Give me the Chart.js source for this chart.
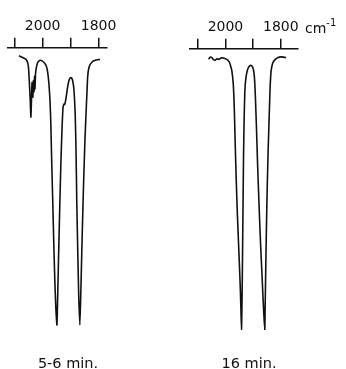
<!DOCTYPE html>
<html>
<head>
<meta charset="utf-8">
<script src="https://cdn.jsdelivr.net/npm/chart.js@4/dist/chart.umd.min.js"></script>
<style>
	body { margin: 0; background: #fff; }
	#wrap { position: relative; width: 346px; height: 369px; overflow: hidden; font-family: "DejaVu Sans", sans-serif; color: #111; }
	canvas { position: absolute; top: 0; }
	.caption { position: absolute; width: 100px; text-align: center; font-size: 14.5px; line-height: 16px; top: 355px; }
	#unit { position: absolute; left: 305px; top: 16px; font-size: 14px; line-height: 16px; }
	#unit sup { font-size: 10px; position: relative; top: -1px; }
</style>
</head>
<body>
<div id="wrap">
	<canvas id="left-chart" width="173" height="369" style="left:0"></canvas>
	<canvas id="right-chart" width="173" height="369" style="left:173px"></canvas>
	<div id="unit">cm<sup>-1</sup></div>
	<div class="caption" style="left:18px">5-6 min.</div>
	<div class="caption" style="left:199px">16 min.</div>
</div>
<script>
// wavenumber ticks (cm-1); only some of them get a label
const tickValues = [2100, 2000, 1900, 1800];
const labeledTicks = [2000, 1800];

// 5-6 min. spectrum: wavenumber and transmittance (%)
const earlyWavenumber = [2085, 2078, 2070, 2063, 2056, 2051, 2048, 2045, 2042, 2039.5, 2038, 2036.5, 2035, 2033, 2031, 2029, 2027.5, 2025.5, 2023, 2020, 2017, 2013, 2008, 2002.5, 1996, 1990, 1985, 1981, 1977.5, 1974, 1971, 1968, 1964, 1960, 1956, 1952.5, 1949, 1947, 1943.5, 1939.5, 1935, 1931, 1927.5, 1924, 1921, 1916, 1911, 1906, 1901, 1897, 1893, 1889, 1886, 1883.5, 1881, 1878, 1874.5, 1871, 1867, 1864, 1859, 1854, 1849, 1845, 1842, 1839, 1835, 1830, 1824, 1817, 1809, 1801, 1795];
const earlyTransmittance = [98.9, 98.6, 98.2, 97.9, 97.1, 95, 90, 84, 76.8, 85, 89.3, 86, 84, 90, 86, 91.5, 87, 92.5, 94.5, 95.8, 96.6, 97.1, 97.3, 97.1, 96.6, 95.8, 94.5, 92.1, 88.6, 83.2, 75, 62, 46.4, 30, 16, 7, 1.8, 9, 25, 42, 60, 72, 80, 81.5, 81.4, 84, 87.5, 90, 91, 91, 90, 87.5, 83, 77, 66, 46, 28, 12, 1.8, 12, 33, 52, 68, 78, 85, 91.5, 94.5, 95.8, 96.6, 97.1, 97.4, 97.6, 97.5];

// 16 min. spectrum
const lateWavenumber = [2061, 2055, 2049, 2043, 2037, 2031, 2025, 2019, 2013, 2005, 1995, 1987, 1982, 1977, 1972, 1969.5, 1967.5, 1965, 1961, 1957, 1953, 1949, 1946, 1944, 1942, 1940.5, 1939, 1937.5, 1936, 1934.5, 1932.5, 1930, 1926, 1921, 1916, 1911, 1906, 1901, 1897, 1894, 1891.5, 1888, 1884, 1879, 1874, 1869, 1864, 1861, 1858, 1856.5, 1854.5, 1852, 1849, 1846, 1843, 1840.5, 1838.5, 1835, 1830, 1825, 1818, 1810, 1800, 1790, 1781];
const lateTransmittance = [97.6, 98.4, 98.2, 97.5, 97.3, 97.8, 97.6, 97.9, 98.2, 98, 97.6, 96.8, 95.5, 93.5, 89, 84, 78, 68, 54, 42, 32, 22, 14, 7, 0, 8, 20, 35, 50, 64, 76, 86, 91, 93.6, 94.8, 95.4, 95.3, 94.6, 92.8, 89, 83, 73, 60, 46, 33, 22, 11, 5, 0, 9, 22, 37, 52, 64, 74, 82, 88, 93.5, 96, 97, 97.8, 98.3, 98.5, 98.4, 98.2];

const toPoints = (xs, ys) => xs.map((x, i) => ({ x: x, y: ys[i] }));

const makeSpectrum = (canvasId, wavenumber, transmittance, xRange, yMax, padding) => {
	new Chart(document.getElementById(canvasId), {
		type: "line",
		data: {
			datasets: [
				{
					data: toPoints(wavenumber, transmittance),
					borderColor: "#111",
					borderWidth: 1.6,
					pointRadius: 0,
					fill: false,
					tension: 0.15,
				},
			],
		},
		options: {
			responsive: false,
			animation: false,
			layout: { padding: padding },
			plugins: {
				legend: { display: false },
				tooltip: { enabled: false },
			},
			scales: {
				x: {
					type: "linear",
					position: "top",
					reverse: true,
					min: xRange[0],
					max: xRange[1],
					afterBuildTicks: (scale) => {
						scale.ticks = tickValues.map((v) => ({ value: v }));
					},
					ticks: {
						autoSkip: false,
						maxRotation: 0,
						padding: 3,
						color: "#111",
						font: { family: "DejaVu Sans", size: 14 },
						callback: (value) => (labeledTicks.includes(value) ? String(value) : ""),
					},
					grid: {
						drawOnChartArea: false,
						tickLength: 10,
						color: "#111",
						lineWidth: 1.5,
					},
					border: { color: "#111", width: 1.5 },
				},
				y: {
					display: false,
					min: 0,
					max: yMax,
				},
			},
		},
	});
};

makeSpectrum("left-chart", earlyWavenumber, earlyTransmittance, [1770, 2124], 101.8, { left: 8, right: 66, top: 15, bottom: 39 });
makeSpectrum("right-chart", lateWavenumber, lateTransmittance, [1738, 2128], 101.4, { left: 17, right: 48, top: 16, bottom: 39 });
</script>
</body>
</html>
